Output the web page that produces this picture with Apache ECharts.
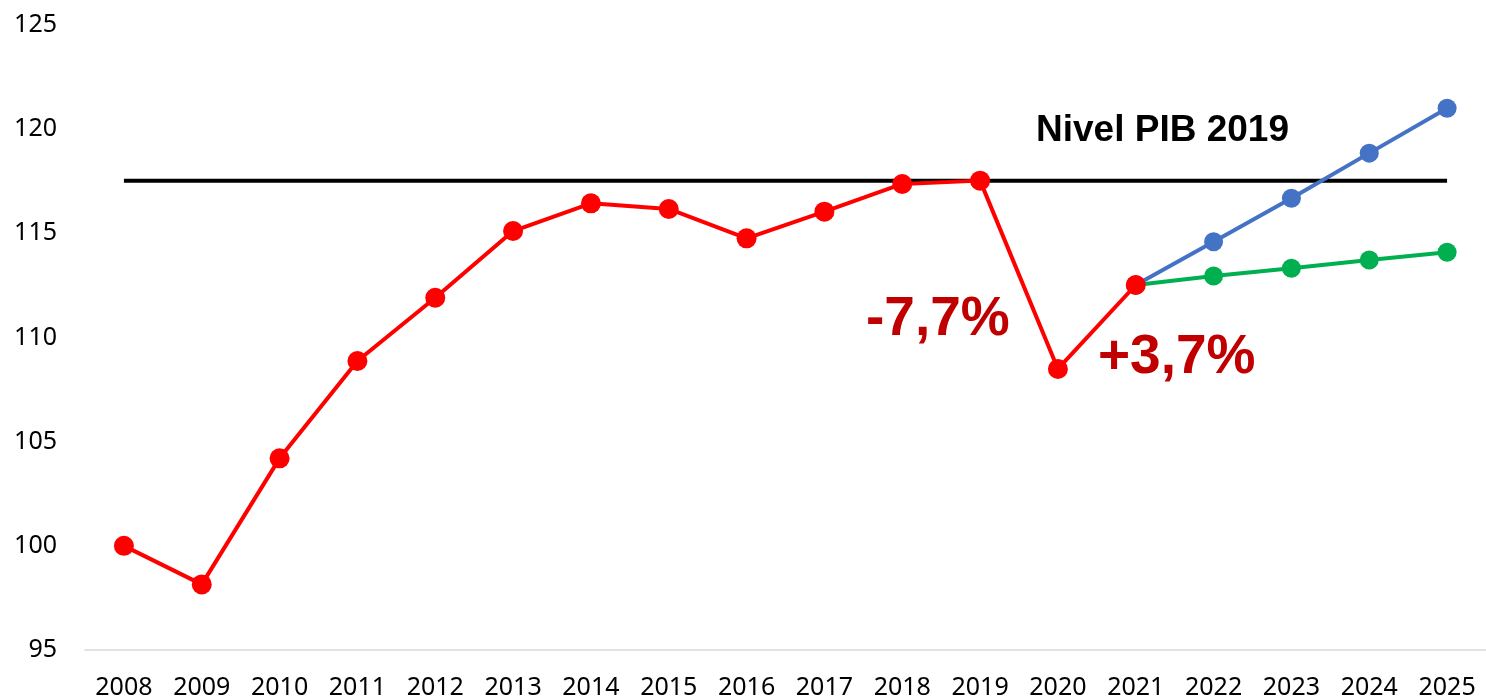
<!DOCTYPE html>
<html>
<head>
<meta charset="utf-8">
<script src="https://cdn.jsdelivr.net/npm/echarts@6/dist/echarts.min.js"></script>
<style>
html,body{margin:0;padding:0;background:#fff;}
#chart{width:1486px;height:700px;}
</style>
</head>
<body>
<div id="chart"></div>
<script>
const years = ['2008','2009','2010','2011','2012','2013','2014','2015','2016','2017','2018','2019','2020','2021','2022','2023','2024','2025'];
const historico = [100, 98.15, 104.2, 108.87, 111.91, 115.11, 116.44, 116.17, 114.76, 116.04, 117.37, 117.53, 108.49, 112.52, null, null, null, null];
const escenarioAlto = [null, null, null, null, null, null, null, null, null, null, null, null, null, 112.52, 114.6, 116.68, 118.85, 121.0];
const escenarioBajo = [null, null, null, null, null, null, null, null, null, null, null, null, null, 112.52, 112.95, 113.32, 113.72, 114.09];
const nivel2019 = 117.52;
const nivelLine = years.map(() => nivel2019);
const yTicks = { min: 95, max: 125, interval: 5 };
const textoNivel = 'Nivel PIB 2019';
const textoCaida = '-7,7%';
const textoSubida = '+3,7%';

const chart = echarts.init(document.getElementById('chart'), null, { renderer: 'canvas' });
const lblFont = { fontFamily: 'Noto Sans', fontSize: 25, color: '#000' };
chart.setOption({
  animation: false,
  backgroundColor: '#ffffff',
  grid: { left: 85, top: 25, width: 1403, height: 625, containLabel: false },
  xAxis: {
    type: 'category',
    data: years,
    boundaryGap: true,
    axisLine: { show: true, lineStyle: { color: '#d9d9d9', width: 1.5 } },
    axisTick: { show: false },
    axisLabel: Object.assign({ margin: 25, interval: 0 }, lblFont),
    splitLine: { show: false }
  },
  yAxis: {
    type: 'value',
    min: yTicks.min, max: yTicks.max, interval: yTicks.interval,
    axisLine: { show: false },
    axisTick: { show: false },
    splitLine: { show: false },
    axisLabel: Object.assign({ margin: 28 }, lblFont)
  },
  series: [
    {
      name: 'Nivel PIB 2019', type: 'line', data: nivelLine,
      symbol: 'none', lineStyle: { color: '#000', width: 4 }, z: 1, silent: true
    },
    {
      name: 'Alto', type: 'line', data: escenarioAlto,
      symbol: 'circle', symbolSize: 19,
      itemStyle: { color: '#4472C4' }, lineStyle: { color: '#4472C4', width: 4 }, z: 2
    },
    {
      name: 'Bajo', type: 'line', data: escenarioBajo,
      symbol: 'circle', symbolSize: 19,
      itemStyle: { color: '#00B050' }, lineStyle: { color: '#00B050', width: 4 }, z: 2
    },
    {
      name: 'Histórico', type: 'line', data: historico,
      symbol: 'circle', symbolSize: 20,
      itemStyle: { color: '#FF0000' }, lineStyle: { color: '#FF0000', width: 4 }, z: 3
    }
  ],
  graphic: [
    { type: 'text', left: 1036, top: 112, style: { text: textoNivel, font: 'bold 37px "Liberation Sans"', fill: '#000' } },
    { type: 'text', left: 866, top: 292, style: { text: textoCaida, font: 'bold 55px "Liberation Sans"', fill: '#C00000' } },
    { type: 'text', left: 1098, top: 330, style: { text: textoSubida, font: 'bold 55px "Liberation Sans"', fill: '#C00000' } }
  ]
});
</script>
</body>
</html>
